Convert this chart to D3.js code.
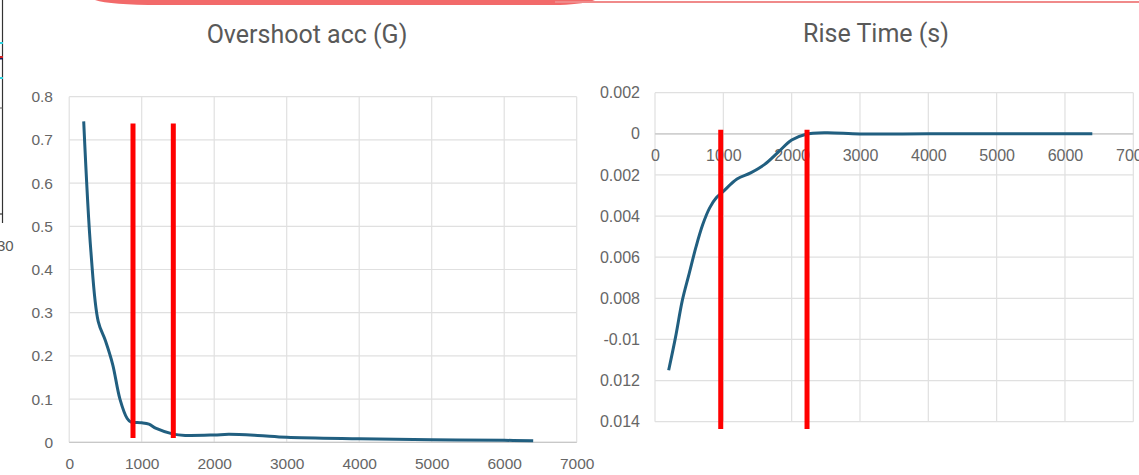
<!DOCTYPE html>
<html>
<head>
<meta charset="utf-8">
<script src="https://cdn.jsdelivr.net/npm/d3@7/dist/d3.min.js"></script>
<style>
  html, body { margin: 0; padding: 0; background: #fff; }
  svg { display: block; }
  text { font-family: Roboto, "Liberation Sans", Arial, sans-serif; fill: #595959; }
</style>
</head>
<body>
<svg id="chart" width="1139" height="475"></svg>
<script>
// ---------- Data ----------
const overshootTitle = "Overshoot acc (G)";
const overshootX = [200, 300, 400, 500, 600, 700, 800, 850, 900, 1000, 1100, 1200, 1436, 1600, 2000, 2200, 2600, 3000, 4000, 5000, 6000, 6400];
const overshootY = [0.743, 0.44, 0.28, 0.235, 0.18, 0.10, 0.055, 0.047, 0.046, 0.045, 0.042, 0.032, 0.019, 0.016, 0.017, 0.0185, 0.016, 0.0118, 0.0083, 0.006, 0.0046, 0.0035];
const overshootXTicks = [0, 1000, 2000, 3000, 4000, 5000, 6000, 7000];
const overshootYTicks = [0, 0.1, 0.2, 0.3, 0.4, 0.5, 0.6, 0.7, 0.8];
const overshootMarkersX = [880, 1436];
const overshootMarkersY = [0.01, 0.738];

const riseTitle = "Rise Time (s)";
const riseX = [200, 300, 400, 500, 600, 700, 800, 900, 1000, 1200, 1400, 1600, 1800, 2000, 2200, 2500, 3000, 4000, 5000, 6400];
const riseY = [-0.0115, -0.0099, -0.0081, -0.0068, -0.0055, -0.0044, -0.0036, -0.0031, -0.0028, -0.0022, -0.0019, -0.0015, -0.0009, -0.0003, -0.00003, 0.00005, -0.00001, 0, 0, 0];
const riseXTicks = [0, 1000, 2000, 3000, 4000, 5000, 6000, 7000];
const riseYTicks = [0.002, 0, -0.002, -0.004, -0.006, -0.008, -0.01, -0.012, -0.014];
const riseMarkersX = [962, 2225];
const riseMarkersY = [0.0002, -0.01435];

// ---------- Drawing ----------
const svg = d3.select("#chart");
const lineColor = "#215f80";
const gridColor = "#e0e0e0";
const axisColor = "#c8c8c8";
const tickFont = "'Liberation Sans', Arial, sans-serif";
const tickColor = "#666666";

function fmt(v) {
  if (v === 0) return "0";
  return String(+v.toFixed(4));
}

function drawChart(cfg) {
  const g = svg.append("g");
  if (cfg.clip) {
    const id = "clip" + Math.random().toString(36).slice(2);
    svg.append("clipPath").attr("id", id).append("rect")
      .attr("x", cfg.clip[0]).attr("y", 0).attr("width", cfg.clip[1] - cfg.clip[0]).attr("height", 475);
    g.attr("clip-path", `url(#${id})`);
  }
  const x = d3.scaleLinear().domain(cfg.xDomain).range(cfg.xRange);
  const y = d3.scaleLinear().domain(cfg.yDomain).range(cfg.yRange);

  // gridlines
  g.append("g").selectAll("line").data(cfg.yTicks).join("line")
    .attr("x1", cfg.xRange[0]).attr("x2", cfg.xRange[1])
    .attr("y1", d => y(d)).attr("y2", d => y(d))
    .attr("stroke", gridColor).attr("stroke-width", 1.2);
  g.append("g").selectAll("line").data(cfg.xTicks).join("line")
    .attr("x1", d => x(d)).attr("x2", d => x(d))
    .attr("y1", cfg.yRange[1]).attr("y2", cfg.yRange[0])
    .attr("stroke", gridColor).attr("stroke-width", 1.2);

  // horizontal axis line
  g.append("line")
    .attr("x1", cfg.xRange[0]).attr("x2", cfg.xRange[1])
    .attr("y1", y(cfg.axisAt)).attr("y2", y(cfg.axisAt))
    .attr("stroke", axisColor).attr("stroke-width", 1.2);

  // y tick labels
  const yAxis = d3.axisLeft(y).tickValues(cfg.yTicks).tickSize(0).tickPadding(0).tickFormat(fmt);
  const ya = g.append("g").attr("transform", `translate(${cfg.yLabelX},0)`).call(yAxis);
  ya.select(".domain").remove();
  ya.selectAll("text").attr("font-size", cfg.tickSize).attr("fill", tickColor).style("fill", tickColor)
    .style("font-family", tickFont);

  // x tick labels
  const xAxis = d3.axisBottom(x).tickValues(cfg.xTicks).tickSize(0).tickPadding(0).tickFormat(d3.format("d"));
  const xa = g.append("g").attr("transform", `translate(0,${y(cfg.axisAt) + cfg.xLabelDy})`).call(xAxis);
  xa.select(".domain").remove();
  xa.selectAll("text").attr("font-size", cfg.tickSize).attr("fill", tickColor).style("fill", tickColor).attr("dy", "0")
    .style("font-family", tickFont);

  // series line
  const pts = cfg.xs.map((d, i) => [d, cfg.ys[i]]);
  const line = d3.line().x(d => x(d[0])).y(d => y(d[1])).curve(d3.curveCatmullRom.alpha(0.5));
  g.append("path").datum(pts).attr("d", line)
    .attr("fill", "none").attr("stroke", lineColor).attr("stroke-width", 3);

  // red marker lines
  g.append("g").selectAll("line").data(cfg.markersX).join("line")
    .attr("x1", d => x(d)).attr("x2", d => x(d))
    .attr("y1", y(cfg.markersY[0])).attr("y2", y(cfg.markersY[1]))
    .attr("stroke", "#ff0000").attr("stroke-width", 5);

  // title
  g.append("text").attr("x", cfg.titleX).attr("y", cfg.titleY)
    .attr("text-anchor", "middle").attr("font-size", 25).attr("fill", "#595959")
    .text(cfg.title);
}

drawChart({
  title: overshootTitle, titleX: 307, titleY: 43,
  xs: overshootX, ys: overshootY,
  xTicks: overshootXTicks, yTicks: overshootYTicks,
  xDomain: [0, 7000], xRange: [69.2, 576.7],
  yDomain: [0, 0.8], yRange: [442.3, 96.7],
  axisAt: 0, xLabelDy: 27, yLabelX: 53, tickSize: 15.5,
  markersX: overshootMarkersX, markersY: overshootMarkersY
});

drawChart({
  title: riseTitle, titleX: 876, titleY: 42,
  xs: riseX, ys: riseY,
  xTicks: riseXTicks, yTicks: riseYTicks,
  xDomain: [0, 7000], xRange: [655, 1133.3],
  yDomain: [-0.014, 0.002], yRange: [421.7, 92.7],
  axisAt: 0, xLabelDy: 27.5, yLabelX: 640, tickSize: 16,
  markersX: riseMarkersX, markersY: riseMarkersY,
  clip: [600, 1139]
});

// ---------- screenshot-crop artifacts ----------
const art = svg.append("g");
art.append("path").attr("d", "M95,0 Q110,5 160,5 L560,5 Q585,4 595,0 Z").attr("fill", "#f26a6a");
art.append("line").attr("x1", 555).attr("x2", 1139).attr("y1", 2).attr("y2", 2)
  .attr("stroke", "#f08a8a").attr("stroke-width", 2);
art.append("line").attr("x1", 2.5).attr("x2", 2.5).attr("y1", 0).attr("y2", 223).attr("stroke", "#333").attr("stroke-width", 1.2);
art.append("line").attr("x1", 0).attr("x2", 3).attr("y1", 214).attr("y2", 214).attr("stroke", "#333").attr("stroke-width", 1.2);
art.append("line").attr("x1", 0).attr("x2", 3).attr("y1", 108).attr("y2", 108).attr("stroke", "#555").attr("stroke-width", 1);
art.append("rect").attr("x", 0).attr("y", 42).attr("width", 3).attr("height", 2).attr("fill", "#2ed3e0");
art.append("rect").attr("x", 0).attr("y", 77).attr("width", 3).attr("height", 2).attr("fill", "#2ed3e0");
art.append("rect").attr("x", 0).attr("y", 56).attr("width", 3).attr("height", 2).attr("fill", "#d02020");
art.append("rect").attr("x", 0).attr("y", 58).attr("width", 3).attr("height", 1.5).attr("fill", "#1a1a5a");
art.append("text").attr("x", -3).attr("y", 251).attr("font-size", 15).attr("fill", "#333")
  .style("font-family", tickFont).text("30");
</script>
</body>
</html>
